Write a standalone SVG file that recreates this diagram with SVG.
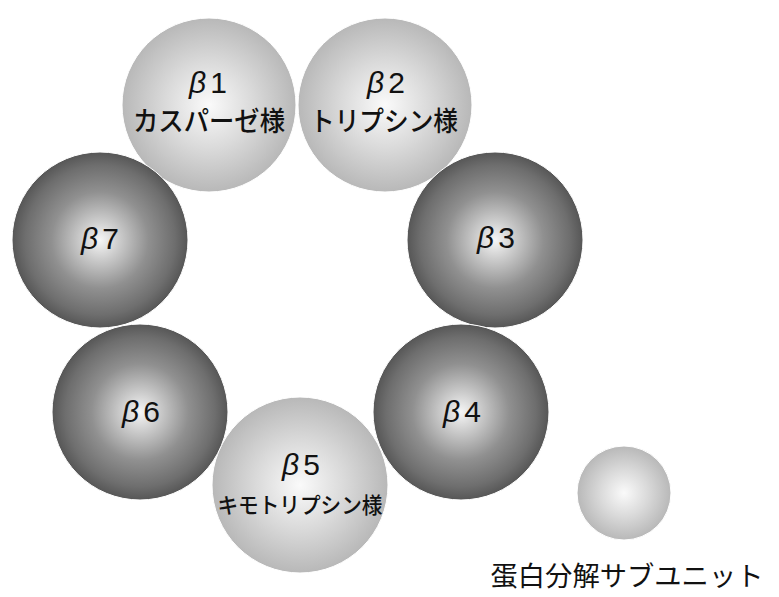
<svg xmlns="http://www.w3.org/2000/svg" width="779" height="597" viewBox="0 0 779 597">
<defs>
<radialGradient id="gDark" cx="0.5" cy="0.5" r="0.5">
<stop offset="0" stop-color="#f6f6f6"/>
<stop offset="0.22" stop-color="#cccccc"/>
<stop offset="0.55" stop-color="#909090"/>
<stop offset="0.85" stop-color="#6e6e6e"/>
<stop offset="1" stop-color="#565656"/>
</radialGradient>
<radialGradient id="gLight" cx="0.5" cy="0.5" r="0.5">
<stop offset="0" stop-color="#fafafa"/>
<stop offset="0.5" stop-color="#dadada"/>
<stop offset="1" stop-color="#b8b8b8"/>
</radialGradient>
</defs>
<style>
.dark{fill:url(#gDark);stroke:#ffffff;stroke-width:1}
.light{fill:url(#gLight);stroke:#ffffff;stroke-width:1}
.b{font-family:"Liberation Sans","Noto Sans",sans-serif;font-size:30px;fill:#111;text-anchor:middle}
.b tspan.g{font-style:italic}
.j{font-family:"Noto Sans CJK JP","Noto Sans",sans-serif;fill:#111;text-anchor:middle;font-weight:500}
.lg{font-family:"Noto Sans CJK JP","Noto Sans",sans-serif;fill:#111;text-anchor:middle;font-weight:400}
</style>
<g id="beta1">
<circle class="light" cx="209" cy="105" r="87"/>
<text class="b" x="208" y="93" font-size="27"><tspan class="g">β</tspan><tspan dx="4">1</tspan></text>
<text class="j" x="209" y="131" font-size="27" textLength="152" lengthAdjust="spacingAndGlyphs">カスパーゼ様</text>
</g>
<g id="beta2">
<circle class="light" cx="385" cy="105" r="87"/>
<text class="b" x="386" y="93" font-size="27"><tspan class="g">β</tspan><tspan dx="4">2</tspan></text>
<text class="j" x="384" y="131" font-size="27" textLength="148" lengthAdjust="spacingAndGlyphs">トリプシン様</text>
</g>
<g id="beta7">
<circle class="dark" cx="100" cy="240" r="88"/>
<text class="b" x="100" y="249"><tspan class="g">β</tspan><tspan dx="4">7</tspan></text>
</g>
<g id="beta3">
<circle class="dark" cx="495" cy="240" r="88"/>
<text class="b" x="496" y="248"><tspan class="g">β</tspan><tspan dx="4">3</tspan></text>
</g>
<g id="beta5">
<circle class="light" cx="300" cy="485" r="88"/>
<text class="b" x="301" y="475" font-size="27"><tspan class="g">β</tspan><tspan dx="4">5</tspan></text>
<text class="j" x="300" y="513" font-size="22" textLength="165" lengthAdjust="spacingAndGlyphs">キモトリプシン様</text>
</g>
<g id="beta6">
<circle class="dark" cx="140" cy="412" r="88"/>
<text class="b" x="141" y="422"><tspan class="g">β</tspan><tspan dx="4">6</tspan></text>
</g>
<g id="beta4">
<circle class="dark" cx="461" cy="412" r="88"/>
<text class="b" x="462" y="422"><tspan class="g">β</tspan><tspan dx="4">4</tspan></text>
</g>
<g id="legend">
<circle class="light" cx="624" cy="493" r="47"/>
<text class="lg" x="627" y="586" font-size="27" textLength="273" lengthAdjust="spacingAndGlyphs">蛋白分解サブユニット</text>
</g>
<g id="connectors"/>
</svg>
